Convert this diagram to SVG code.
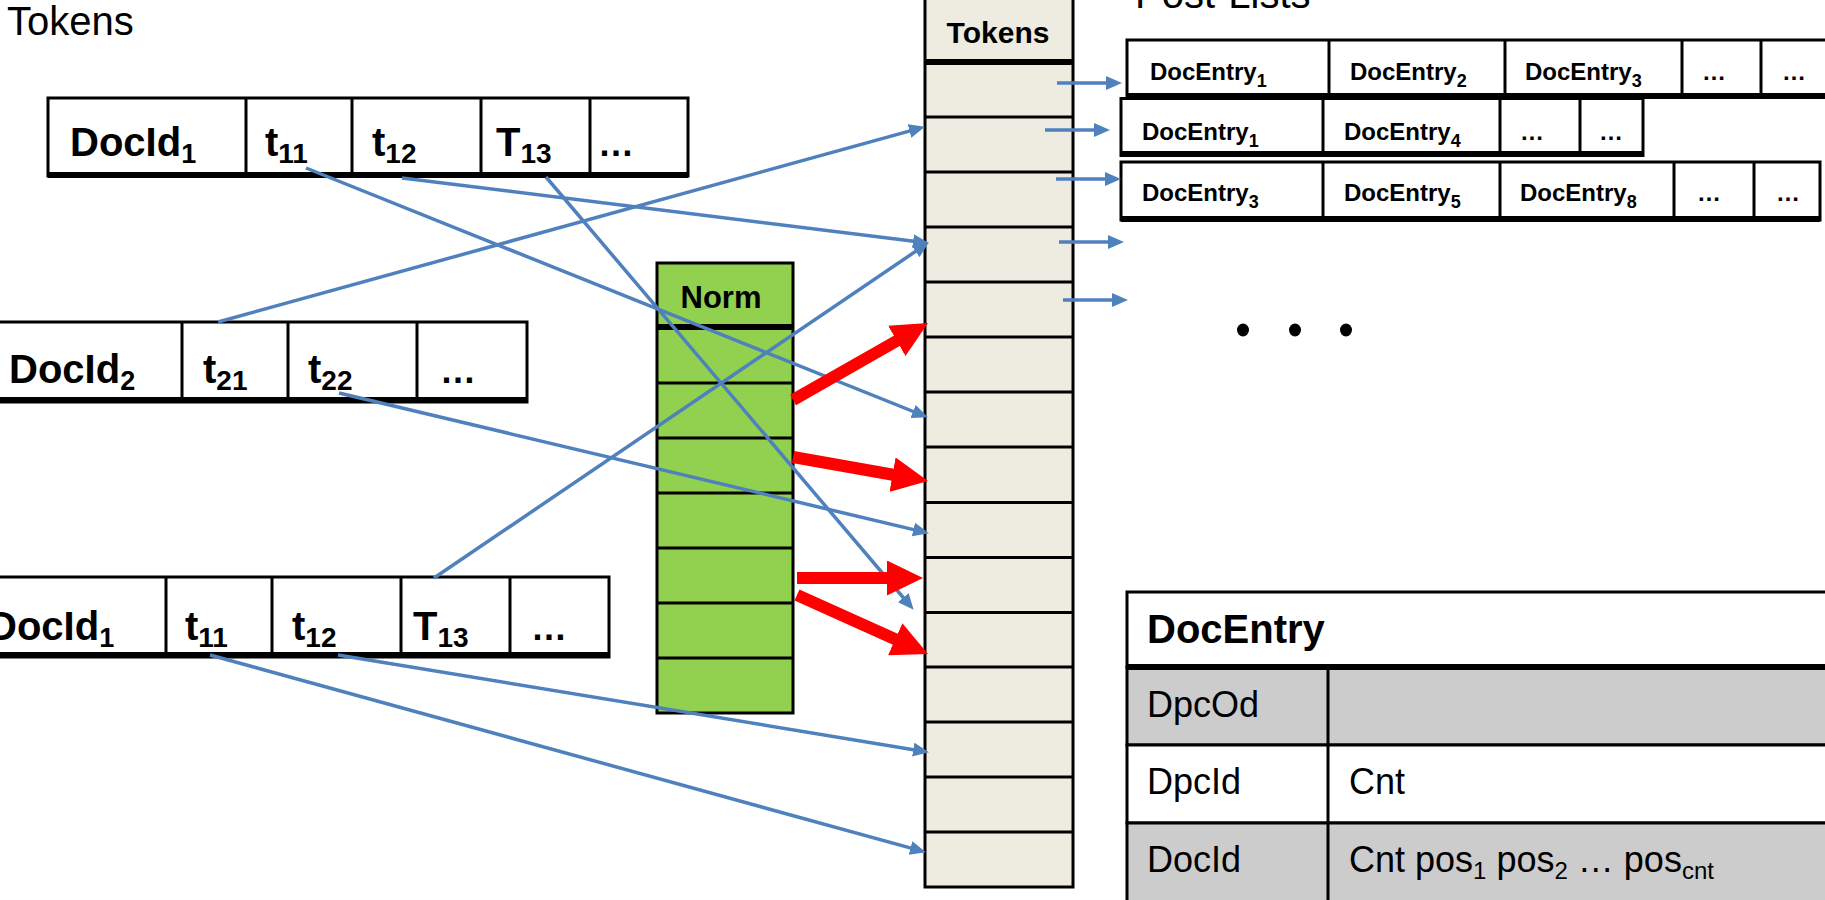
<svg xmlns="http://www.w3.org/2000/svg" width="1825" height="900" viewBox="0 0 1825 900">
<style>
.box{fill:#fff;stroke:#000;stroke-width:3}
.ln{stroke:#000;stroke-width:3}
.thick{stroke:#000;stroke-width:6}
.b{font-family:"Liberation Sans",Arial,sans-serif;font-weight:bold;fill:#000}
.n{font-family:"Liberation Sans",Arial,sans-serif;fill:#000}
.big{font-size:40px}
.sm{font-size:24px}
.blue{stroke:#4F81BD;stroke-width:3.5;fill:none;marker-end:url(#ab)}
.red{stroke:#FF0000;stroke-width:12;fill:none;marker-end:url(#ar)}
</style>
<defs>
<marker id="ab" viewBox="0 0 16 14" refX="11" refY="7" markerWidth="16" markerHeight="14" markerUnits="userSpaceOnUse" orient="auto"><path d="M0,0 L16,7 L0,14 z" fill="#4F81BD"/></marker>
<marker id="ar" viewBox="0 0 36 35" refX="2" refY="17.5" markerWidth="36" markerHeight="35" markerUnits="userSpaceOnUse" orient="auto"><path d="M0,0 L36,17.5 L0,35 z" fill="#FF0000"/></marker>
</defs>
<rect x="0" y="0" width="1825" height="900" fill="#fff"/>

<text id="title-tokens" class="n" x="7" y="35" font-size="40">Tokens</text>
<text id="title-postlists" class="n" x="1135" y="8" font-size="40">Post-Lists</text>

<g id="doc1-top">
<rect class="box" x="48" y="98" width="640" height="78"/>
<line class="thick" x1="48" y1="175" x2="688" y2="175"/>
<line class="ln" x1="246" y1="98" x2="246" y2="176"/>
<line class="ln" x1="352" y1="98" x2="352" y2="176"/>
<line class="ln" x1="481" y1="98" x2="481" y2="176"/>
<line class="ln" x1="590" y1="98" x2="590" y2="176"/>
<text class="b big" x="70" y="156">DocId<tspan dy="7" font-size="27">1</tspan></text>
<text class="b big" x="265" y="156">t<tspan dy="7" font-size="28">11</tspan></text>
<text class="b big" x="372" y="156">t<tspan dy="7" font-size="28">12</tspan></text>
<text class="b big" x="496" y="156">T<tspan dy="7" font-size="28">13</tspan></text>
<text class="b" x="598" y="156" font-size="36">…</text>
</g>

<g id="doc2">
<rect class="box" x="-10" y="322" width="537" height="80"/>
<line class="thick" x1="-10" y1="400" x2="527" y2="400"/>
<line class="ln" x1="182" y1="322" x2="182" y2="402"/>
<line class="ln" x1="288" y1="322" x2="288" y2="402"/>
<line class="ln" x1="417" y1="322" x2="417" y2="402"/>
<text class="b big" x="9" y="383">DocId<tspan dy="7" font-size="27">2</tspan></text>
<text class="b big" x="203" y="383">t<tspan dy="7" font-size="28">21</tspan></text>
<text class="b big" x="308" y="383">t<tspan dy="7" font-size="28">22</tspan></text>
<text class="b" x="440" y="383" font-size="36">…</text>
</g>

<g id="doc1-bottom">
<rect class="box" x="-10" y="577" width="619" height="80"/>
<line class="thick" x1="-10" y1="655" x2="609" y2="655"/>
<line class="ln" x1="166" y1="577" x2="166" y2="657"/>
<line class="ln" x1="272" y1="577" x2="272" y2="657"/>
<line class="ln" x1="401" y1="577" x2="401" y2="657"/>
<line class="ln" x1="510" y1="577" x2="510" y2="657"/>
<text class="b big" x="-12" y="640">DocId<tspan dy="7" font-size="27">1</tspan></text>
<text class="b big" x="185" y="640">t<tspan dy="7" font-size="28">11</tspan></text>
<text class="b big" x="292" y="640">t<tspan dy="7" font-size="28">12</tspan></text>
<text class="b big" x="413" y="640">T<tspan dy="7" font-size="28">13</tspan></text>
<text class="b" x="531" y="640" font-size="36">…</text>
</g>

<g id="norm">
<rect x="657" y="263" width="136" height="450" fill="#92D050" stroke="#000" stroke-width="3"/>
<line class="thick" x1="657" y1="327" x2="793" y2="327"/>
<line class="ln" x1="657" y1="383" x2="793" y2="383"/>
<line class="ln" x1="657" y1="438" x2="793" y2="438"/>
<line class="ln" x1="657" y1="493" x2="793" y2="493"/>
<line class="ln" x1="657" y1="548" x2="793" y2="548"/>
<line class="ln" x1="657" y1="603" x2="793" y2="603"/>
<line class="ln" x1="657" y1="658" x2="793" y2="658"/>
<text class="b" x="721" y="308" font-size="31" text-anchor="middle">Norm</text>
</g>

<g id="tokens">
<rect x="925" y="-5" width="148" height="892" fill="#EEECE1" stroke="#000" stroke-width="3"/>
<line class="thick" x1="925" y1="62" x2="1073" y2="62"/>
<line class="ln" x1="925" y1="117" x2="1073" y2="117"/>
<line class="ln" x1="925" y1="172" x2="1073" y2="172"/>
<line class="ln" x1="925" y1="227" x2="1073" y2="227"/>
<line class="ln" x1="925" y1="282" x2="1073" y2="282"/>
<line class="ln" x1="925" y1="337" x2="1073" y2="337"/>
<line class="ln" x1="925" y1="392" x2="1073" y2="392"/>
<line class="ln" x1="925" y1="447" x2="1073" y2="447"/>
<line class="ln" x1="925" y1="502.5" x2="1073" y2="502.5"/>
<line class="ln" x1="925" y1="557.5" x2="1073" y2="557.5"/>
<line class="ln" x1="925" y1="612.5" x2="1073" y2="612.5"/>
<line class="ln" x1="925" y1="667" x2="1073" y2="667"/>
<line class="ln" x1="925" y1="722" x2="1073" y2="722"/>
<line class="ln" x1="925" y1="777" x2="1073" y2="777"/>
<line class="ln" x1="925" y1="832" x2="1073" y2="832"/>
<text class="b" x="998" y="43" font-size="30" text-anchor="middle">Tokens</text>
</g>

<g id="postlist1">
<rect class="box" x="1127" y="40" width="701" height="57"/>
<line class="thick" x1="1127" y1="96" x2="1828" y2="96"/>
<line class="ln" x1="1329" y1="40" x2="1329" y2="97"/>
<line class="ln" x1="1505" y1="40" x2="1505" y2="97"/>
<line class="ln" x1="1682" y1="40" x2="1682" y2="97"/>
<line class="ln" x1="1761" y1="40" x2="1761" y2="97"/>
<text class="b sm" x="1150" y="80">DocEntry<tspan dy="7" font-size="18">1</tspan></text>
<text class="b sm" x="1350" y="80">DocEntry<tspan dy="7" font-size="18">2</tspan></text>
<text class="b sm" x="1525" y="80">DocEntry<tspan dy="7" font-size="18">3</tspan></text>
<text class="b sm" x="1702" y="80">…</text>
<text class="b sm" x="1782" y="80">…</text>
</g>

<g id="postlist2">
<rect class="box" x="1121" y="98.5" width="522" height="57"/>
<line class="thick" x1="1121" y1="154" x2="1643" y2="154"/>
<line class="ln" x1="1323" y1="98.5" x2="1323" y2="155.5"/>
<line class="ln" x1="1500" y1="98.5" x2="1500" y2="155.5"/>
<line class="ln" x1="1580" y1="98.5" x2="1580" y2="155.5"/>
<text class="b sm" x="1142" y="140">DocEntry<tspan dy="7" font-size="18">1</tspan></text>
<text class="b sm" x="1344" y="140">DocEntry<tspan dy="7" font-size="18">4</tspan></text>
<text class="b sm" x="1520" y="140">…</text>
<text class="b sm" x="1599" y="140">…</text>
</g>

<g id="postlist3">
<rect class="box" x="1121" y="162" width="699" height="58"/>
<line class="thick" x1="1121" y1="219" x2="1820" y2="219"/>
<line class="ln" x1="1323" y1="162" x2="1323" y2="220"/>
<line class="ln" x1="1500" y1="162" x2="1500" y2="220"/>
<line class="ln" x1="1674" y1="162" x2="1674" y2="220"/>
<line class="ln" x1="1754" y1="162" x2="1754" y2="220"/>
<text class="b sm" x="1142" y="201">DocEntry<tspan dy="7" font-size="18">3</tspan></text>
<text class="b sm" x="1344" y="201">DocEntry<tspan dy="7" font-size="18">5</tspan></text>
<text class="b sm" x="1520" y="201">DocEntry<tspan dy="7" font-size="18">8</tspan></text>
<text class="b sm" x="1697" y="201">…</text>
<text class="b sm" x="1776" y="201">…</text>
</g>

<g id="more-dots" fill="#000">
<ellipse cx="1243" cy="330" rx="6" ry="6.5"/>
<ellipse cx="1295" cy="330" rx="6" ry="6.5"/>
<ellipse cx="1346" cy="330" rx="6" ry="6.5"/>
</g>

<g id="docentry-table">
<rect x="1127" y="592" width="720" height="75" fill="#fff" stroke="#000" stroke-width="3"/>
<rect x="1127" y="667" width="720" height="78" fill="#CCCCCC" stroke="#000" stroke-width="3"/>
<rect x="1127" y="745" width="720" height="78" fill="#fff" stroke="#000" stroke-width="3"/>
<rect x="1127" y="823" width="720" height="90" fill="#CCCCCC" stroke="#000" stroke-width="3"/>
<line class="thick" x1="1127" y1="667" x2="1847" y2="667"/>
<line class="ln" x1="1328" y1="667" x2="1328" y2="913"/>
<text class="b" x="1147" y="643" font-size="40">DocEntry</text>
<text class="n" x="1147" y="717" font-size="36">DpcOd</text>
<text class="n" x="1147" y="794" font-size="36">DpcId</text>
<text class="n" x="1349" y="794" font-size="36">Cnt</text>
<text class="n" x="1147" y="872" font-size="36">DocId</text>
<text class="n" x="1349" y="872" font-size="36">Cnt pos<tspan dy="7" font-size="24">1</tspan><tspan dy="-7"> pos</tspan><tspan dy="7" font-size="24">2</tspan><tspan dy="-7"> … pos</tspan><tspan dy="7" font-size="24">cnt</tspan></text>
</g>

<g id="connectors">
<path class="blue" d="M306,168 L923.3,415.5"/>
<path class="blue" d="M402,178 L924,242.5"/>
<path class="blue" d="M546,177 L910.4,606"/>
<path class="blue" d="M218,322 L920.1,128.1"/>
<path class="blue" d="M339,393 L924.1,532.1"/>
<path class="blue" d="M434,578 L924.7,245.2"/>
<path class="blue" d="M210,655 L921.1,850.9"/>
<path class="blue" d="M338,655 L924.1,751.4"/>
<path class="blue" d="M1057,83 L1117,83"/>
<path class="blue" d="M1045,130 L1105,130"/>
<path class="blue" d="M1056,179 L1116,179"/>
<path class="blue" d="M1059,242 L1119,242"/>
<path class="blue" d="M1063,300 L1123,300"/>
<path class="red" d="M793,400 L898.5,339.9"/>
<path class="red" d="M793,457 L894.5,475"/>
<path class="red" d="M797,578 L889,578"/>
<path class="red" d="M797,595 L897,640"/>
</g>
</svg>
